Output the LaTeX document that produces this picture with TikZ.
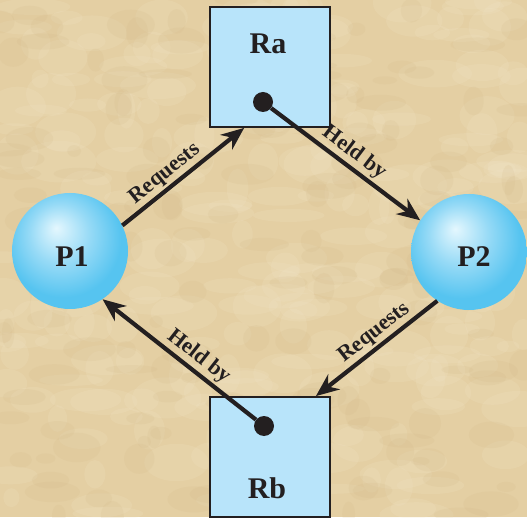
\documentclass[tikz,border=0pt]{standalone}
\usepackage{fontspec}
\setmainfont{Liberation Serif}
\usetikzlibrary{arrows.meta,calc}

\definecolor{parch}{RGB}{228,207,163}
\definecolor{parchlight}{RGB}{244,232,205}
\definecolor{parchdark}{RGB}{205,178,128}
\definecolor{boxblue}{RGB}{184,228,250}
\definecolor{ink}{RGB}{35,31,32}
\definecolor{sphhi}{RGB}{228,247,254}
\definecolor{sphmid}{RGB}{150,218,246}
\definecolor{sphedge}{RGB}{86,196,240}

% sphere-like fill for the process nodes, highlight at upper left
\pgfdeclareradialshading{sphere}{\pgfpoint{-6bp}{10bp}}{%
  color(0bp)=(sphhi);
  color(13bp)=(sphmid);
  color(25bp)=(sphedge);
  color(50bp)=(sphedge)}

\tikzset{
  proc/.style={circle, minimum size=116pt, inner sep=0pt, shade, shading=sphere},
  res/.style={rectangle, draw=ink, line width=1.8pt, fill=boxblue,
    minimum width=120pt, minimum height=120pt, inner sep=0pt},
  holder/.style={circle, fill=ink, minimum size=20pt, inner sep=0pt},
  caption/.style={font=\bfseries\fontsize{30}{30}\selectfont, text=ink, inner sep=0pt},
  edgelab/.style={font=\bfseries\fontsize{22}{22}\selectfont, text=ink,
    sloped, above=1pt, inner sep=1pt},
  link/.style={draw=ink, line width=4.2pt, -{Stealth[length=23pt,width=19pt]}}
}

\begin{document}
\begin{tikzpicture}[x=1pt, y=1pt]
  \useasboundingbox (0,0) rectangle (527,517);

  % parchment background
  \fill[parch] (0,0) rectangle (527,517);
  \pgfmathsetseed{4217}
  \foreach \i in {1,...,260} {
    \pgfmathsetmacro\xx{rnd*527}
    \pgfmathsetmacro\yy{rnd*517}
    \pgfmathsetmacro\ra{8+rnd*30}
    \pgfmathsetmacro\rb{5+rnd*16}
    \fill[parchlight, opacity=0.16] (\xx,\yy) ellipse ({\ra} and {\rb});
  }
  \foreach \i in {1,...,160} {
    \pgfmathsetmacro\xx{rnd*527}
    \pgfmathsetmacro\yy{rnd*517}
    \pgfmathsetmacro\ra{6+rnd*22}
    \pgfmathsetmacro\rb{4+rnd*12}
    \fill[parchdark, opacity=0.13] (\xx,\yy) ellipse ({\ra} and {\rb});
  }

  % processes
  \node[proc] (P1) at (70,266) {};
  \node[proc] (P2) at (469,265) {};
  \node[caption] (p1-name) at (72,260) {P1};
  \node[caption] (p2-name) at (474,260) {P2};

  % resources
  \node[res] (Ra) at (270,450) {};
  \node[res] (Rb) at (270,60) {};
  \node[caption] (ra-name) at (268,473) {Ra};
  \node[caption] (rb-name) at (267,29) {Rb};
  \node[holder] (ra-dot) at (263,415) {};
  \node[holder] (rb-dot) at (264,91) {};

  % requests and assignments
  \draw[link] (P1.26) -- node[edgelab, pos=0.42] {Requests} (Ra.247);
  \draw[link] (ra-dot) -- node[edgelab, pos=0.5] {Held by} (P2.147);
  \draw[link] (P2.237) -- node[edgelab, pos=0.45] {Requests} (Rb.53);
  \draw[link] (rb-dot) -- node[edgelab, pos=0.43] {Held by} (P1.304);
\end{tikzpicture}
\end{document}
